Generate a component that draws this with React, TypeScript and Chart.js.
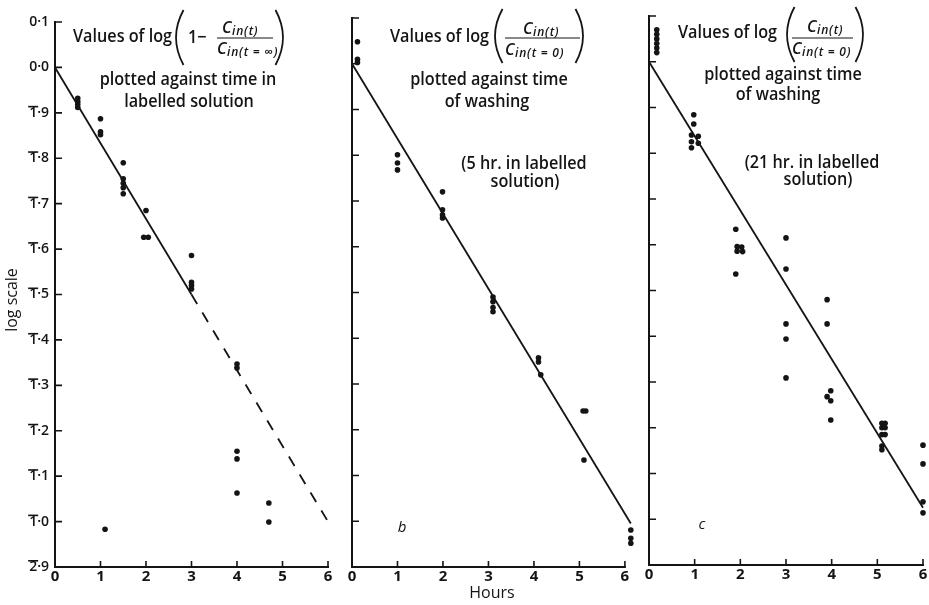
import React, { useEffect, useRef } from "react";
import { Chart, registerables } from "chart.js";

Chart.register(...registerables);

// ---------------- data ----------------
const hourTicks = [0, 1, 2, 3, 4, 5, 6];
const logTickValues = [0.1, 0, -0.1, -0.2, -0.3, -0.4, -0.5, -0.6, -0.7, -0.8, -0.9, -1.0, -1.1];
const logTickLabels = [
  "0·1", "0·0", "1\u0304·9", "1\u0304·8", "1\u0304·7", "1\u0304·6", "1\u0304·5",
  "1\u0304·4", "1\u0304·3", "1\u0304·2", "1\u0304·1", "1\u0304·0", "2\u0304·9",
];

// panel a: uptake in labelled solution
const aHours = [0.5, 0.5, 0.5, 0.5, 1.0, 1.0, 1.0, 1.1, 1.5, 1.5, 1.5, 1.5, 1.5, 2.0, 1.95, 2.05, 3.0, 3.0, 3.0, 3.0, 4.0, 4.0, 4.0, 4.0, 4.0, 4.7, 4.7];
const aLog = [-0.068, -0.075, -0.081, -0.088, -0.113, -0.142, -0.148, -1.017, -0.21, -0.245, -0.255, -0.265, -0.278, -0.315, -0.374, -0.374, -0.414, -0.473, -0.48, -0.488, -0.653, -0.662, -0.845, -0.862, -0.937, -0.959, -1.001];
const aFitHours = [0, 3];
const aFitLog = [0, -0.5];
const aExtHours = [3, 6];
const aExtLog = [-0.5, -1.0];

// panel b: washing after 5 hr
const bHours = [0.12, 0.12, 0.12, 1.0, 1.0, 1.0, 1.99, 1.99, 1.99, 1.99, 3.1, 3.1, 3.1, 3.1, 4.1, 4.1, 4.15, 5.08, 5.14, 5.1, 6.13, 6.13, 6.13];
const bLog = [0.048, 0.01, 0.003, -0.199, -0.217, -0.232, -0.28, -0.319, -0.33, -0.337, -0.51, -0.52, -0.533, -0.542, -0.643, -0.652, -0.68, -0.759, -0.759, -0.866, -1.019, -1.037, -1.048];
const bFitHours = [0, 6.13];
const bFitLog = [0, -1.005];

// panel c: washing after 21 hr
const cHours = [0.17, 0.17, 0.17, 0.17, 0.17, 0.17, 0.98, 0.98, 0.93, 0.93, 0.93, 1.08, 1.08, 1.9, 1.93, 1.93, 2.03, 2.05, 1.9, 3.0, 3.0, 3.0, 3.0, 3.0, 3.9, 3.9, 3.9, 3.98, 3.98, 3.98, 5.1, 5.1, 5.1, 5.17, 5.17, 5.17, 5.1, 5.1, 6.0, 6.0, 6.0, 6.0];
const cLog = [0.07, 0.06, 0.05, 0.04, 0.03, 0.02, -0.116, -0.136, -0.16, -0.175, -0.188, -0.163, -0.178, -0.366, -0.404, -0.414, -0.405, -0.415, -0.464, -0.385, -0.453, -0.573, -0.606, -0.691, -0.52, -0.573, -0.732, -0.719, -0.741, -0.783, -0.79, -0.8, -0.815, -0.79, -0.8, -0.815, -0.84, -0.848, -0.838, -0.879, -0.962, -0.986];
const cFitHours = [0, 6];
const cFitLog = [0, -0.975];

// texts
const yAxisTitle = "log scale";
const xAxisTitle = "Hours";
const valuesOfLog = "Values of log";
const aLines = ["plotted against time in", "labelled solution"];
const bLines = ["plotted against time", "of washing", "(5 hr. in labelled", "solution)"];
const cLines = ["plotted against time", "of washing", "(21 hr. in labelled", "solution)"];
const numSub = "in(t)";
const denSubA = "in(t = \u221e)";
const denSubBC = "in(t = 0)";

// ---------------- drawing helpers ----------------
const F = "'Open Sans', Lato, 'DejaVu Sans', sans-serif";
const INK = "#141414";
const TXT = `600 18px ${F}`;
const SX = 0.9; // narrow lettering, as in the print

const pts = (h: number[], v: number[]) => h.map((x, i) => ({ x, y: v[i] }));

const scatterDs = (h: number[], v: number[]) => ({
  data: pts(h, v),
  showLine: false,
  pointRadius: 2.8,
  pointBackgroundColor: INK,
  pointBorderColor: INK,
  pointBorderWidth: 0,
  clip: false as any,
});

const lineDs = (h: number[], v: number[], dash: number[] = []) => ({
  data: pts(h, v),
  showLine: true,
  pointRadius: 0,
  borderColor: INK,
  borderWidth: 1.8,
  borderDash: dash,
  clip: false as any,
  fill: false,
});

type Formula = {
  vx: number; vy: number;
  lpx: number; ptop: number; pbot: number;
  prefix?: { x: number; y: number; text: string };
  numX: number; numY: number;
  barX1: number; barX2: number; barY: number;
  denX: number; denY: number; denSub: string;
  rpx: number;
};

type TextItem = { t: string; x: number; y: number; font?: string; align?: CanvasTextAlign; rot?: number; sx?: number };

type PanelSpec = {
  left: number; width: number; top: number; xAxisH: number; yAxisW: number; padRight: number;
  xMax: number;
  yLabels: boolean;
  datasets: any[];
  formula: Formula;
  texts: TextItem[];
};

function paren(ctx: CanvasRenderingContext2D, x: number, top: number, bot: number, left: boolean) {
  const mid = (top + bot) / 2;
  const b = 15;
  ctx.beginPath();
  if (left) {
    ctx.moveTo(x + b / 2, top);
    ctx.quadraticCurveTo(x - b / 2, mid, x + b / 2, bot);
  } else {
    ctx.moveTo(x - b / 2, top);
    ctx.quadraticCurveTo(x + b / 2, mid, x - b / 2, bot);
  }
  ctx.stroke();
}

function scaledText(ctx: CanvasRenderingContext2D, t: string, x: number, y: number, sx: number) {
  ctx.save();
  ctx.translate(x, y);
  ctx.scale(sx, 1);
  ctx.fillText(t, 0, 0);
  ctx.restore();
}

function cSub(ctx: CanvasRenderingContext2D, x: number, y: number, sub: string) {
  ctx.textAlign = "left";
  ctx.textBaseline = "middle";
  ctx.font = `italic 600 16px ${F}`;
  ctx.fillText("C", x, y);
  const w = ctx.measureText("C").width;
  ctx.font = `italic 600 12px ${F}`;
  (ctx as any).letterSpacing = "0.8px";
  ctx.fillText(sub, x + w + 0.5, y + 4);
  (ctx as any).letterSpacing = "0px";
}

function makeDecor(p: PanelSpec) {
  return {
    id: "decor",
    afterDraw(chart: any) {
      const { ctx, chartArea, scales } = chart;
      const xs = scales.x;
      const ys = scales.y;
      const ox = p.left;
      ctx.save();
      ctx.strokeStyle = INK;
      ctx.fillStyle = INK;
      // x axis line from 0 to 6 hours
      ctx.lineWidth = 2;
      ctx.beginPath();
      ctx.moveTo(xs.getPixelForValue(hourTicks[0]) - 1, chartArea.bottom);
      ctx.lineTo(xs.getPixelForValue(hourTicks[hourTicks.length - 1]) + 1, chartArea.bottom);
      ctx.stroke();
      // inward tick marks
      ctx.lineWidth = 1.6;
      ctx.beginPath();
      logTickValues.forEach((v) => {
        if (v < -1.05) return;
        const py = ys.getPixelForValue(v);
        ctx.moveTo(chartArea.left, py);
        ctx.lineTo(chartArea.left + 7, py);
      });
      hourTicks.forEach((h) => {
        if (h === 0) return;
        const px = xs.getPixelForValue(h);
        ctx.moveTo(px, chartArea.bottom);
        ctx.lineTo(px, chartArea.bottom - 6);
      });
      ctx.stroke();

      // y tick labels with bar notation
      if (p.yLabels) {
        ctx.font = `600 14px ${F}`;
        ctx.textAlign = "right";
        ctx.textBaseline = "middle";
        logTickLabels.forEach((lab, i) => {
          const py = ys.getPixelForValue(logTickValues[i]);
          const hasBar = lab.includes("\u0304");
          const plain = lab.replace("\u0304", "");
          const right = chartArea.left - 6;
          ctx.fillText(plain, right, py);
          if (hasBar) {
            const w = ctx.measureText(plain).width;
            const w1 = ctx.measureText(plain[0]).width;
            ctx.fillRect(right - w - 1, py - 7, w1 + 2, 1.6);
          }
        });
      }

      // formula
      const f = p.formula;
      ctx.lineWidth = 1.8;
      ctx.font = TXT;
      ctx.textAlign = "left";
      ctx.textBaseline = "middle";
      scaledText(ctx, valuesOfLog, f.vx - ox, f.vy, SX);
      paren(ctx, f.lpx - ox, f.ptop, f.pbot, true);
      paren(ctx, f.rpx - ox, f.ptop, f.pbot, false);
      if (f.prefix) {
        ctx.font = TXT;
        scaledText(ctx, f.prefix.text, f.prefix.x - ox, f.prefix.y, SX);
      }
      cSub(ctx, f.numX - ox, f.numY, numSub);
      ctx.lineWidth = 1.2;
      ctx.beginPath();
      ctx.moveTo(f.barX1 - ox, f.barY);
      ctx.lineTo(f.barX2 - ox, f.barY);
      ctx.stroke();
      cSub(ctx, f.denX - ox, f.denY, f.denSub);

      // other texts
      p.texts.forEach((t) => {
        ctx.save();
        ctx.font = t.font || TXT;
        ctx.textAlign = t.align || "center";
        ctx.textBaseline = "middle";
        ctx.translate(t.x - ox, t.y);
        if (t.rot) ctx.rotate(t.rot);
        ctx.scale(t.sx ?? SX, 1);
        ctx.fillText(t.t, 0, 0);
        ctx.restore();
      });
      ctx.restore();
    },
  };
}

const panels: PanelSpec[] = [
  {
    left: 0, width: 342, top: 22, xAxisH: 38, yAxisW: 55, padRight: 14, xMax: 6, yLabels: true,
    datasets: [scatterDs(aHours, aLog), lineDs(aFitHours, aFitLog), lineDs(aExtHours, aExtLog, [11, 10])],
    formula: {
      vx: 73, vy: 37, lpx: 176, ptop: 10, pbot: 65,
      prefix: { x: 188, y: 38, text: "1\u2212" },
      numX: 222, numY: 28, barX1: 217, barX2: 273, barY: 38, denX: 217, denY: 49, denSub: denSubA, rpx: 283,
    },
    texts: [
      { t: aLines[0], x: 188, y: 80 },
      { t: aLines[1], x: 189, y: 102 },
      { t: yAxisTitle, x: 12, y: 300, rot: -Math.PI / 2, font: `16px ${F}`, sx: 1 },
    ],
  },
  {
    left: 338, width: 300, top: 18, xAxisH: 38, yAxisW: 14, padRight: 2, xMax: 6.2, yLabels: false,
    datasets: [scatterDs(bHours, bLog), lineDs(bFitHours, bFitLog)],
    formula: {
      vx: 390, vy: 37, lpx: 495, ptop: 9, pbot: 63,
      numX: 523, numY: 29, barX1: 505, barX2: 580, barY: 38, denX: 505, denY: 50, denSub: denSubBC, rpx: 583,
    },
    texts: [
      { t: bLines[0], x: 489, y: 80 },
      { t: bLines[1], x: 487, y: 102 },
      { t: bLines[2], x: 524, y: 164 },
      { t: bLines[3], x: 525, y: 182 },
      { t: "b", x: 402, y: 528, font: `italic 15px ${F}`, sx: 1 },
      { t: xAxisTitle, x: 492, y: 593, font: `16px ${F}`, sx: 1 },
    ],
  },
  {
    left: 636, width: 293, top: 16, xAxisH: 40, yAxisW: 13, padRight: 6, xMax: 6, yLabels: false,
    datasets: [scatterDs(cHours, cLog), lineDs(cFitHours, cFitLog)],
    formula: {
      vx: 678, vy: 33, lpx: 787, ptop: 7, pbot: 62,
      numX: 807, numY: 27, barX1: 792, barX2: 853, barY: 38, denX: 792, denY: 49, denSub: denSubBC, rpx: 863,
    },
    texts: [
      { t: cLines[0], x: 783, y: 75 },
      { t: cLines[1], x: 778, y: 95 },
      { t: cLines[2], x: 812, y: 163 },
      { t: cLines[3], x: 818, y: 180 },
      { t: "c", x: 702, y: 525, font: `italic 15px ${F}`, sx: 1 },
    ],
  },
];

function Panel({ p }: { p: PanelSpec }) {
  const ref = useRef<HTMLCanvasElement | null>(null);
  useEffect(() => {
    if (!ref.current) return;
    const chart = new Chart(ref.current, {
      type: "scatter",
      data: { datasets: p.datasets },
      options: {
        animation: false,
        responsive: false,
        events: [],
        layout: { padding: { left: 0, right: p.padRight, top: p.top, bottom: 0 } },
        plugins: { legend: { display: false }, tooltip: { enabled: false } },
        scales: {
          x: {
            type: "linear",
            min: 0,
            max: p.xMax,
            afterBuildTicks: (s: any) => {
              s.ticks = hourTicks.map((v) => ({ value: v }));
            },
            ticks: {
              font: { family: F, size: 15, weight: "bold" },
              color: INK,
              padding: 1,
              maxRotation: 0,
              autoSkip: false,
              callback: (v: any) => String(v),
            },
            grid: { display: false, drawTicks: false, tickLength: 0 },
            border: { display: false },
            afterFit: (s: any) => {
              s.height = p.xAxisH;
            },
          },
          y: {
            type: "linear",
            min: -1.1,
            max: 0.1,
            ticks: { display: false },
            grid: { display: false, drawTicks: false, tickLength: 0 },
            border: { display: true, color: INK, width: 2 },
            afterFit: (s: any) => {
              s.width = p.yAxisW;
            },
          },
        },
      } as any,
      plugins: [makeDecor(p)],
    });
    return () => chart.destroy();
  }, [p]);
  return (
    <canvas
      ref={ref}
      width={p.width}
      height={605}
      style={{ position: "absolute", left: p.left, top: 0, width: p.width, height: 605 }}
    />
  );
}

export default function App() {
  return (
    <div style={{ position: "absolute", left: 0, top: 0, width: 929, height: 605, background: "#fff" }}>
      {panels.map((p, i) => (
        <Panel key={i} p={p} />
      ))}
    </div>
  );
}
